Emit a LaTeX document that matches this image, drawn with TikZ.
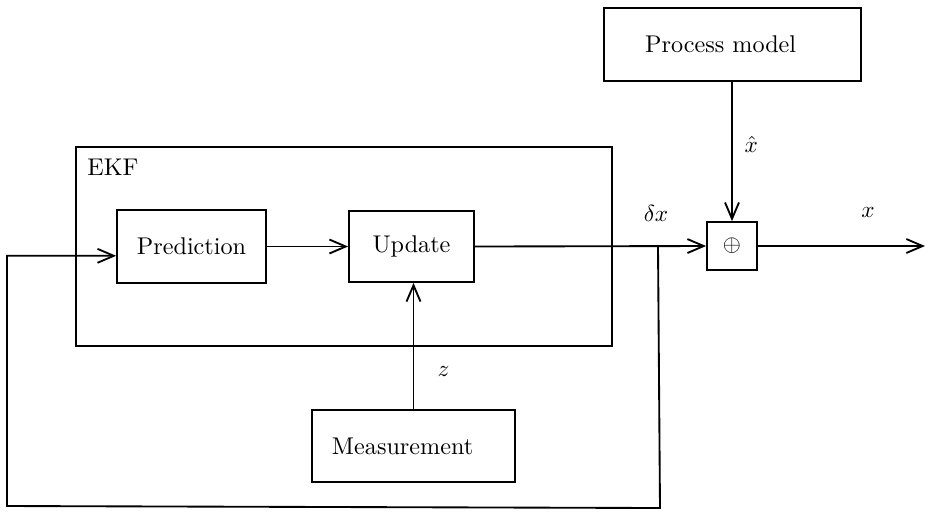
\documentclass[tikz,border=0pt]{standalone}
\usetikzlibrary{arrows.meta}
\begin{document}
\begin{tikzpicture}[
        % 全局樣式設定:一個像素約 0.43pt
        x=0.43pt, y=-0.43pt,
        line width=0.8pt,
        font=\fontsize{10.4}{12.5}\selectfont,
        % 方框樣式:黑框、白底
        block/.style={
            draw=black,
            fill=white,
            inner sep=0pt
        },
        % 左對齊文字的方框
        leftblock/.style={
            block,
            align=left
        },
        % 連線樣式(開口箭頭)
        flow/.style={
            -{Straight Barb[length=7pt,width=6pt]},
            line width=0.8pt
        },
        % 文字標籤樣式
        sig/.style={
            inner sep=0pt
        }
    ]

    % 固定圖片大小
    \useasboundingbox (0,0) rectangle (930,511);

    % --- EKF 外框 ---
    \node[block, minimum width=230.5pt, minimum height=85.6pt] (ekf) at (344,246.5) {};
    \node[sig] (ekflabel) at (113,167) {EKF};

    % --- 方框 ---
    \node[block, minimum width=64pt, minimum height=31.4pt] (pred) at (191.5,246.5) {Prediction};
    \node[block, minimum width=53.75pt, minimum height=30.5pt] (upd) at (411.5,246.5) {Update};
    \node[leftblock, text width=75.2pt, inner xsep=17.6pt, minimum height=31.4pt] (model) at (732.5,44.5) {Process model};
    \node[leftblock, text width=70.1pt, inner xsep=8.6pt, minimum height=31pt] (meas) at (413.5,446) {Measurement};
    \node[block, minimum width=21.5pt, minimum height=20.6pt] (sum) at (732,246) {$\oplus$};

    % 端點
    \coordinate (split) at (658,246.5);
    \coordinate (out) at (925,246);
    \coordinate (fbr) at (660,508);
    \coordinate (fbl) at (7,506);

    % --- 連線 ---
    \draw[flow] (pred.east) -- (upd.west);
    \draw[flow] (upd.east) -- (sum.west);
    \draw[flow] (sum.north |- model.south) -- node[sig, right=5pt, pos=0.45] (xhat) {$\hat{x}$} (sum.north);
    \draw[flow] (meas.north) -- node[sig, right=10pt, pos=0.3] (zlab) {$z$} (meas.north |- upd.south);
    \draw[flow] (sum.east) -- (out);
    % 回授路徑
    \draw[flow] (split) -- (fbr) -- (fbl) |- ([yshift=-4pt]pred.west);

    % 其他標籤
    \node[sig] (dx) at (656,213) {$\delta x$};
    \node[sig] (xlab) at (868,212) {$x$};
\end{tikzpicture}
\end{document}
